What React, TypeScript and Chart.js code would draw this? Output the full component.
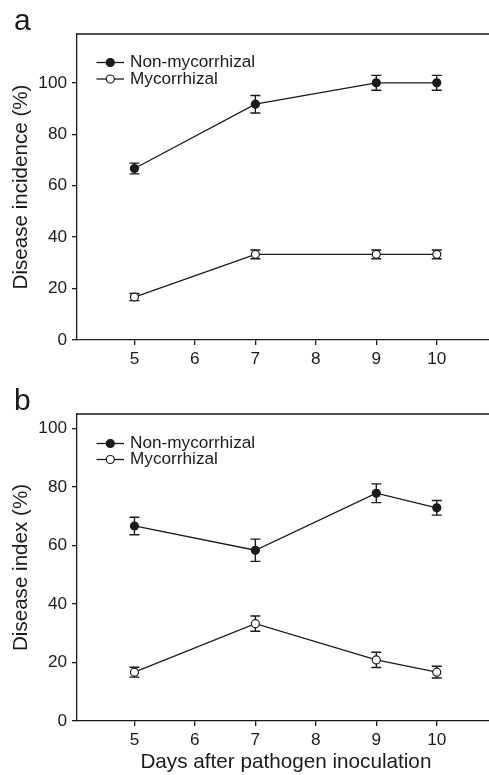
import React, { useEffect, useRef } from 'react';
import { Chart, registerables } from 'chart.js';

Chart.register(...registerables);

// ---- data ----
const days = [5, 7, 9, 10];
const xTickValues = [5, 6, 7, 8, 9, 10];
const yTickValues = [0, 20, 40, 60, 80, 100];
const seriesLabels = ['Non-mycorrhizal', 'Mycorrhizal'];

const incidenceNonMyc = [66.7, 91.7, 100, 100];
const incidenceNonMycErr = [2.1, 3.4, 2.9, 2.9];
const incidenceMyc = [16.7, 33.3, 33.3, 33.3];
const incidenceMycErr = [1.4, 1.7, 1.7, 1.7];

const indexNonMyc = [66.7, 58.4, 77.9, 72.9];
const indexNonMycErr = [3.0, 3.8, 3.2, 2.5];
const indexMyc = [16.7, 33.3, 20.9, 16.7];
const indexMycErr = [1.7, 2.6, 2.6, 2.0];

const FONT = "'Liberation Sans', Arial, Helvetica, sans-serif";
const INK = '#1a1a1a';

const errorBarPlugin = {
  id: 'errorBars',
  beforeDatasetsDraw(chart: any, _args: any, opts: any) {
    const errs: number[][] = opts.errors || [];
    const ctx = chart.ctx;
    const xs = chart.scales.x;
    const ys = chart.scales.y;
    ctx.save();
    ctx.strokeStyle = INK;
    ctx.lineWidth = 1.4;
    chart.data.datasets.forEach((ds: any, i: number) => {
      const e = errs[i] || [];
      ds.data.forEach((p: any, j: number) => {
        const err = e[j];
        if (!err) return;
        const px = xs.getPixelForValue(p.x);
        const top = ys.getPixelForValue(p.y + err);
        const bot = ys.getPixelForValue(p.y - err);
        const cw = 5;
        ctx.beginPath();
        ctx.moveTo(px, top);
        ctx.lineTo(px, bot);
        ctx.moveTo(px - cw, top);
        ctx.lineTo(px + cw, top);
        ctx.moveTo(px - cw, bot);
        ctx.lineTo(px + cw, bot);
        ctx.stroke();
      });
    });
    ctx.restore();
  },
};

const decorPlugin = {
  id: 'decor',
  afterDraw(chart: any, _args: any, opts: any) {
    const ctx = chart.ctx;
    const area = chart.chartArea;
    ctx.save();
    // top frame line
    ctx.strokeStyle = INK;
    ctx.lineWidth = 1.3;
    ctx.beginPath();
    ctx.moveTo(area.left, area.top);
    ctx.lineTo(area.right, area.top);
    ctx.stroke();
    // panel letter
    ctx.fillStyle = INK;
    ctx.font = `30px ${FONT}`;
    ctx.textBaseline = 'alphabetic';
    ctx.textAlign = 'left';
    ctx.fillText(opts.letter, 14, 30);
    // legend
    const rows = [opts.legendY1, opts.legendY2];
    seriesLabels.forEach((label, i) => {
      const y = area.top + rows[i];
      ctx.strokeStyle = INK;
      ctx.lineWidth = 1.3;
      ctx.beginPath();
      ctx.moveTo(96.5, y);
      ctx.lineTo(124, y);
      ctx.stroke();
      ctx.beginPath();
      ctx.arc(110.3, y, 4, 0, Math.PI * 2);
      ctx.fillStyle = i === 0 ? INK : '#ffffff';
      ctx.fill();
      ctx.lineWidth = 1.2;
      ctx.stroke();
      ctx.fillStyle = INK;
      ctx.font = `17.2px ${FONT}`;
      ctx.textBaseline = 'middle';
      ctx.fillText(label, 130, y);
    });
    ctx.restore();
  },
};

type PanelProps = {
  height: number;
  letter: string;
  yTitle: string;
  xTitle?: string;
  yMax: number;
  nonMyc: number[];
  nonMycErr: number[];
  myc: number[];
  mycErr: number[];
  xAxisHeight: number;
  legendY1: number;
  legendY2: number;
};

function Panel(props: PanelProps) {
  const ref = useRef<HTMLCanvasElement | null>(null);
  useEffect(() => {
    if (!ref.current) return;
    const toPts = (vals: number[]) => vals.map((v, i) => ({ x: days[i], y: v }));
    const chart = new Chart(ref.current, {
      type: 'line',
      data: {
        datasets: [
          {
            label: seriesLabels[0],
            data: toPts(props.nonMyc),
            borderColor: INK,
            borderWidth: 1.3,
            pointRadius: 4,
            pointBackgroundColor: INK,
            pointBorderColor: INK,
            pointBorderWidth: 1.2,
            tension: 0,
          },
          {
            label: seriesLabels[1],
            data: toPts(props.myc),
            borderColor: INK,
            borderWidth: 1.3,
            pointRadius: 4,
            pointBackgroundColor: '#ffffff',
            pointBorderColor: INK,
            pointBorderWidth: 1.2,
            tension: 0,
          },
        ],
      },
      options: {
        responsive: false,
        animation: false,
        events: [],
        layout: { padding: { top: 34, left: 0, right: 0, bottom: 0 } },
        plugins: {
          legend: { display: false },
          tooltip: { enabled: false },
          errorBars: { errors: [props.nonMycErr, props.mycErr] },
          decor: { letter: props.letter, legendY1: props.legendY1, legendY2: props.legendY2 },
        } as any,
        scales: {
          x: {
            type: 'linear',
            min: 4.05,
            max: 10.96,
            afterBuildTicks: (scale: any) => {
              scale.ticks = xTickValues.map((v) => ({ value: v }));
            },
            afterFit: (scale: any) => {
              scale.height = props.xAxisHeight;
            },
            ticks: {
              color: INK,
              font: { family: FONT, size: 17.2 },
              padding: 4,
              maxRotation: 0,
              autoSkip: false,
            },
            grid: { display: true, drawOnChartArea: false, drawTicks: true, tickLength: 5, color: INK, lineWidth: 1.3 },
            border: { display: true, color: INK, width: 1.3 },
            title: props.xTitle
              ? { display: true, text: props.xTitle, color: INK, font: { family: FONT, size: 20.7 }, padding: { top: 0, bottom: 0 } }
              : { display: false },
          },
          y: {
            type: 'linear',
            min: 0,
            max: props.yMax,
            afterBuildTicks: (scale: any) => {
              scale.ticks = yTickValues.map((v) => ({ value: v }));
            },
            afterFit: (scale: any) => {
              scale.width = 77;
            },
            ticks: {
              color: INK,
              font: { family: FONT, size: 17.2 },
              padding: 5,
              autoSkip: false,
            },
            grid: { display: true, drawOnChartArea: false, drawTicks: true, tickLength: 5, color: INK, lineWidth: 1.3 },
            border: { display: true, color: INK, width: 1.3 },
            title: { display: true, text: props.yTitle, color: INK, font: { family: FONT, size: 20.6 }, padding: { top: 9.2, bottom: 0 } },
          },
        },
      } as any,
      plugins: [errorBarPlugin, decorPlugin],
    });
    return () => chart.destroy();
  }, []);
  return <canvas ref={ref} width={500} height={props.height} style={{ display: 'block', width: 500, height: props.height }} />;
}

export default function App() {
  return (
    <div style={{ position: 'absolute', left: 0, top: 0, width: 489, height: 775, overflow: 'hidden', background: '#fff' }}>
      <div style={{ position: 'absolute', left: 0, top: 0 }}>
        <Panel
          height={380}
          letter="a"
          yTitle="Disease incidence (%)"
          yMax={119}
          nonMyc={incidenceNonMyc}
          nonMycErr={incidenceNonMycErr}
          myc={incidenceMyc}
          mycErr={incidenceMycErr}
          xAxisHeight={40}
          legendY1={28.5}
          legendY2={45}
        />
      </div>
      <div style={{ position: 'absolute', left: 0, top: 380 }}>
        <Panel
          height={395}
          letter="b"
          yTitle="Disease index (%)"
          xTitle="Days after pathogen inoculation"
          yMax={105}
          nonMyc={indexNonMyc}
          nonMycErr={indexNonMycErr}
          myc={indexMyc}
          mycErr={indexMycErr}
          xAxisHeight={54}
          legendY1={29.5}
          legendY2={45.5}
        />
      </div>
    </div>
  );
}
